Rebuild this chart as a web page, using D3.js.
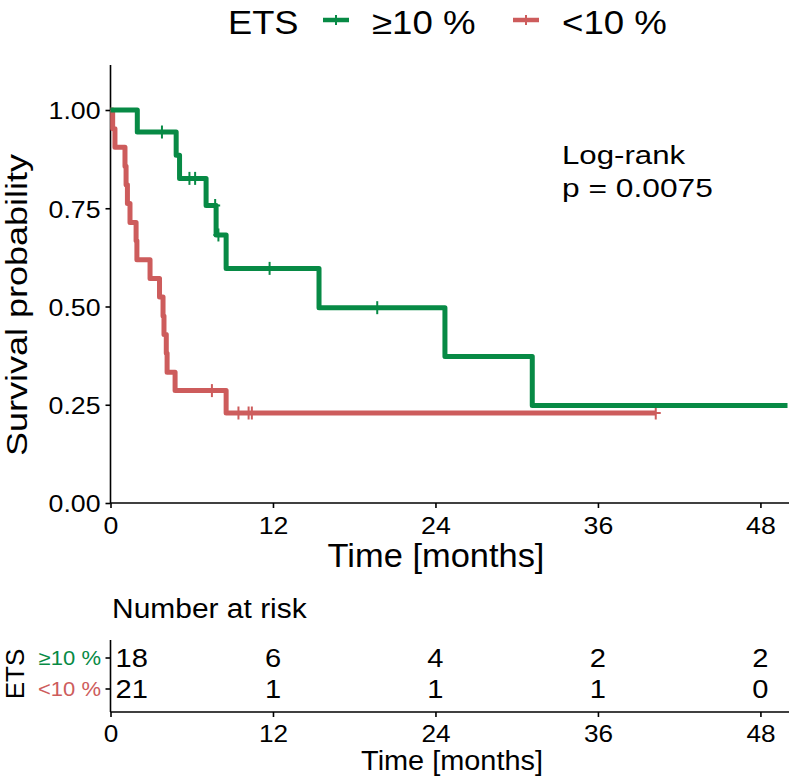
<!DOCTYPE html>
<html><head><meta charset="utf-8">
<script src="https://cdn.jsdelivr.net/npm/d3@7"></script>
<style>body{margin:0;background:#fff}text{font-family:"Liberation Sans",Arial,sans-serif}</style>
</head><body><svg id="c" width="789" height="776"></svg>
<script>
const groups = ["≥10 %", "<10 %"];
const colors = ["#078A45", "#CD5C5C"];
// step points (time, survival)
const greenTimes = [0, 1.98, 4.85, 5.1, 7.06, 7.8, 8.54, 15.4, 24.7, 31.15, 50];
const greenSurv  = [1.0, 0.944, 0.885, 0.826, 0.757, 0.682, 0.597, 0.497, 0.373, 0.248, 0.248];
const greenCensT = [3.8, 5.83, 6.25, 7.73, 7.97, 11.75, 19.7];
const greenCensS = [0.944, 0.826, 0.826, 0.757, 0.682, 0.597, 0.497];
const redTimes = [0, 0.16, 0.33, 1.07, 1.15, 1.25, 1.44, 1.89, 1.95, 2.92, 3.62, 3.88, 3.95, 4.12, 4.18, 4.77, 8.54, 40.27];
const redSurv  = [1, 0.952, 0.905, 0.857, 0.810, 0.762, 0.714, 0.667, 0.619, 0.571, 0.524, 0.476, 0.429, 0.381, 0.333, 0.286, 0.229, 0.229];
const redCensT = [7.49, 9.45, 10.2, 10.44, 40.27];
const redCensS = [0.286, 0.229, 0.229, 0.229, 0.229];
const xTicks = [0, 12, 24, 36, 48];
const yTicks = [0, 0.25, 0.5, 0.75, 1.0];
const riskHigh = [18, 6, 4, 2, 2];
const riskLow  = [21, 1, 1, 1, 0];

const svg = d3.select("#c");
const x = d3.scaleLinear().domain([0, 50]).range([110.5, 787.5]);
const y = d3.scaleLinear().domain([0, 1]).range([503, 110]);
const yTop = 65;

function txt(px, py, str, size, sx, anchor, fill, rot) {
  return svg.append("text")
    .attr("transform", `translate(${px},${py})` + (rot ? " rotate(-90)" : "") + ` scale(${sx},1)`)
    .attr("text-anchor", anchor || "start").attr("fill", fill || "#000")
    .style("font-size", size + "px").text(str);
}

// axes main
const gx = svg.append("g").attr("transform", "translate(0,503)")
  .call(d3.axisBottom(x).tickValues(xTicks).tickSize(5).tickPadding(4));
const gy = svg.append("g").attr("transform", "translate(110.5,0)")
  .call(d3.axisLeft(y).tickValues(yTicks).tickFormat(d3.format(".2f")).tickSize(5).tickPadding(4));
gy.select(".domain").attr("d", `M0,${yTop}V503`);
gx.select(".domain").attr("d", `M110.5,0H789`);
[gx, gy].forEach(g => {
  g.selectAll(".domain, .tick line").attr("stroke", "#000").attr("stroke-width", 1.6);
  g.selectAll(".tick text").attr("fill", "#000").style("font-size", "24.5px").attr("font-family", "Liberation Sans, Arial");
});
gy.selectAll(".tick text").attr("x", null).attr("dy", "0.36em").attr("transform", "translate(-10,0) scale(1.09,1)");
gx.selectAll(".tick text").attr("y", null).attr("dy", null).attr("transform", "translate(0,31) scale(1.09,1)");

txt(436, 567, "Time [months]", 32.5, 1.06, "middle");
txt(27, 305, "Survival probability", 30, 1.2, "middle", "#000", true);

// curves
const line = d3.line().x(d => x(d[0])).y(d => y(d[1])).curve(d3.curveStepAfter);
const series = [
  {t: greenTimes, s: greenSurv, ct: greenCensT, cs: greenCensS, c: colors[0]},
  {t: redTimes, s: redSurv, ct: redCensT, cs: redCensS, c: colors[1]}
];
series.slice().reverse().forEach(sr => {
  const pts = sr.t.map((t, i) => [t, sr.s[i]]);
  svg.append("path").attr("d", line(pts)).attr("fill", "none").attr("stroke", sr.c)
    .attr("stroke-width", 5).attr("stroke-linejoin", "round");
  sr.ct.forEach((t, i) => {
    svg.append("line").attr("x1", x(t)).attr("x2", x(t)).attr("y1", y(sr.cs[i]) - 6.5).attr("y2", y(sr.cs[i]) + 6.5)
      .attr("stroke", sr.c).attr("stroke-width", 2);
    svg.append("line").attr("x1", x(t) - 5).attr("x2", x(t) + 5).attr("y1", y(sr.cs[i])).attr("y2", y(sr.cs[i]))
      .attr("stroke", sr.c).attr("stroke-width", 2);
  });
});

// log-rank
txt(562, 164, "Log-rank", 26, 1.2);
txt(562, 197, "p = 0.0075", 26, 1.22);

// legend
txt(228, 34, "ETS", 33, 1.1);
const legX = [{k: 323, t: 372}, {k: 513, t: 562}];
groups.forEach((g, i) => {
  svg.append("line").attr("x1", legX[i].k).attr("x2", legX[i].k + 26).attr("y1", 20).attr("y2", 20)
    .attr("stroke", colors[i]).attr("stroke-width", 4.5);
  svg.append("line").attr("x1", legX[i].k + 13).attr("x2", legX[i].k + 13).attr("y1", 15).attr("y2", 25)
    .attr("stroke", colors[i]).attr("stroke-width", 2);
  txt(legX[i].t, 34, g, 33, 1.11);
});

// risk table
txt(112, 618, "Number at risk", 28, 1.07);
const rowY = [658, 689];
const gr = svg.append("g").attr("transform", "translate(0,712)")
  .call(d3.axisBottom(x).tickValues(xTicks).tickSize(5).tickPadding(4));
gr.select(".domain").attr("d", `M110.5,0H789`);
gr.selectAll(".domain, .tick line").attr("stroke", "#000").attr("stroke-width", 1.6);
gr.selectAll(".tick text").attr("fill", "#000").style("font-size", "24px").attr("font-family", "Liberation Sans, Arial")
  .attr("y", null).attr("dy", null).attr("transform", "translate(0,30) scale(1.09,1)");
svg.append("line").attr("x1", 110.5).attr("x2", 110.5).attr("y1", 640).attr("y2", 712).attr("stroke", "#000").attr("stroke-width", 1.6);
[riskHigh, riskLow].forEach((row, r) => {
  svg.append("line").attr("x1", 105.5).attr("x2", 110.5).attr("y1", rowY[r]).attr("y2", rowY[r]).attr("stroke", "#000").attr("stroke-width", 1.6);
  txt(101, rowY[r] + 7, groups[r], 20, 1.1, "end", colors[r]);
  row.forEach((v, i) => {
    txt(i === 0 ? x(xTicks[i]) + 5 : x(xTicks[i]), rowY[r] + 9, v, 26, 1.12, i === 0 ? "start" : "middle");
  });
});
txt(24, 674, "ETS", 26, 1.0, "middle", "#000", true);
txt(452, 770, "Time [months]", 27, 1.07, "middle");
</script></body></html>
